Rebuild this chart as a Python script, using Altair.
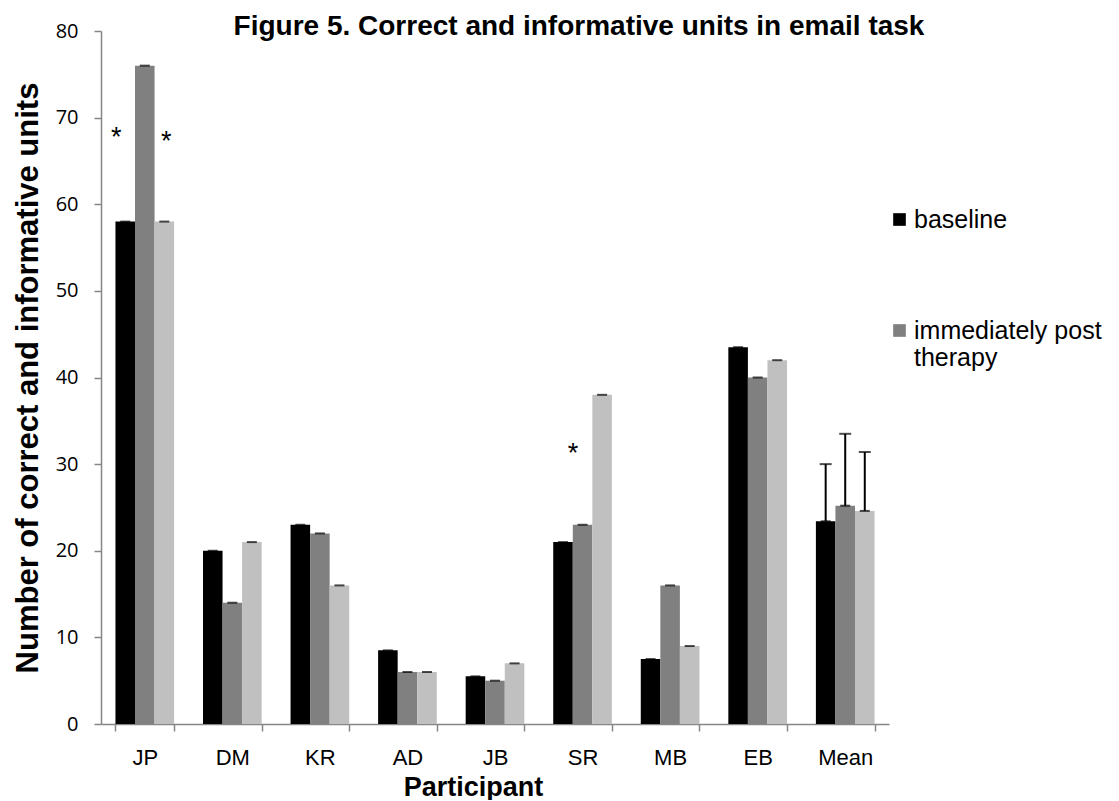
import altair as alt
import pandas as pd

participants = ["JP", "DM", "KR", "AD", "JB", "SR", "MB", "EB", "Mean"]
series_names = ["baseline", "immediately post therapy", "follow-up"]
baseline = [58, 20, 23, 8.5, 5.5, 21, 7.5, 43.5, 23.4]
post_therapy = [76, 14, 22, 6, 5, 23, 16, 40, 25.2]
follow_up = [58, 21, 16, 6, 7, 38, 9, 42, 24.6]
mean_upper = [30.0, 33.5, 31.4]

star_participant = ["JP", "JP", "SR"]
star_series = ["baseline", "follow-up", "baseline"]
star_value = [68.5, 68.0, 32.0]
star_dx = [-9, 2, 10]

rows = []
for i, p in enumerate(participants):
    for s, vals in zip(series_names, [baseline, post_therapy, follow_up]):
        rows.append({"participant": p, "series": s, "value": vals[i]})
df = pd.DataFrame(rows)

mean_df = pd.DataFrame({
    "participant": ["Mean"] * 3,
    "series": series_names,
    "value": [baseline[-1], post_therapy[-1], follow_up[-1]],
    "upper": mean_upper,
})

star_df = pd.DataFrame({
    "participant": star_participant,
    "series": star_series,
    "value": star_value,
})

x_enc = alt.X("participant:N", sort=participants,
              scale=alt.Scale(paddingInner=0.33, paddingOuter=0.165),
              axis=alt.Axis(title="Participant", labelAngle=0, labelFont="Liberation Sans",
                            labelFontSize=22, labelColor="black", labelPadding=16, grid=False,
                            titleFont="Liberation Sans", titleFontSize=27, titleFontWeight="bold",
                            titleColor="black", titlePadding=6, titleX=372,
                            tickBand="extent", tickSize=7, tickColor="#868686",
                            domainColor="#868686", domainWidth=1.5, tickWidth=1.5))
xoff = alt.XOffset("series:N", sort=series_names)
color_scale = alt.Scale(domain=series_names, range=["#000000", "#808080", "#c0c0c0"])

bars = alt.Chart(df).mark_bar().encode(
    x=x_enc,
    xOffset=xoff,
    y=alt.Y("value:Q", scale=alt.Scale(domain=[0, 80]),
            axis=alt.Axis(title="Number of correct and informative units", values=list(range(0, 81, 10)),
                          grid=False, labelFont="Open Sans", labelFontSize=20, labelColor="black",
                          labelPadding=16, tickSize=7, tickColor="#868686", tickWidth=1.5,
                          domainColor="#868686", domainWidth=1.5,
                          titleFont="Liberation Sans", titleFontSize=31, titleFontWeight="bold",
                          titleColor="black", titlePadding=11)),
    color=alt.Color("series:N", scale=color_scale, sort=series_names,
                    legend=alt.Legend(title=None, values=series_names[:2], orient="none",
                                      legendX=786, legendY=176, symbolType="square",
                                      symbolSize=160, symbolStrokeWidth=0, symbolOpacity=1,
                                      labelFont="Liberation Sans", labelFontSize=25,
                                      labelColor="black", rowPadding=85, labelOffset=2,
                                      labelLimit=300,
                                      labelExpr="datum.label == 'immediately post therapy' ? ['immediately post', 'therapy'] : datum.label")),
)

caps = alt.Chart(df).mark_tick(color="black", thickness=2, size=10).encode(
    x=alt.X("participant:N", sort=participants),
    xOffset=xoff,
    y="value:Q",
)

err_rule = alt.Chart(mean_df).mark_rule(color="black", strokeWidth=2).encode(
    x=alt.X("participant:N", sort=participants),
    xOffset=xoff,
    y="value:Q",
    y2="upper:Q",
)
err_cap = alt.Chart(mean_df).mark_tick(color="black", thickness=2, size=12).encode(
    x=alt.X("participant:N", sort=participants),
    xOffset=xoff,
    y="upper:Q",
)

layers = []
for i in range(len(star_df)):
    layers.append(
        alt.Chart(star_df.iloc[[i]]).mark_text(text="*", fontSize=27, font="Liberation Sans",
                                               color="black", dx=int(star_dx[i]), dy=7).encode(
            x=alt.X("participant:N", sort=participants),
            xOffset=xoff,
            y="value:Q",
        )
    )

chart = alt.layer(bars, caps, err_rule, err_cap, *layers).properties(
    width=788, height=693,
    background="white",
    padding={"left": 4, "top": 5, "right": 5, "bottom": 0},
    title=alt.TitleParams("Figure 5. Correct and informative units in email task",
                          font="Liberation Sans", fontSize=28, fontWeight="bold", color="black",
                          anchor="middle", dx=84, offset=-20),
).configure_view(strokeWidth=0, stroke="transparent")

chart.save("out.html", embed_options={"renderer": "svg", "actions": False})
